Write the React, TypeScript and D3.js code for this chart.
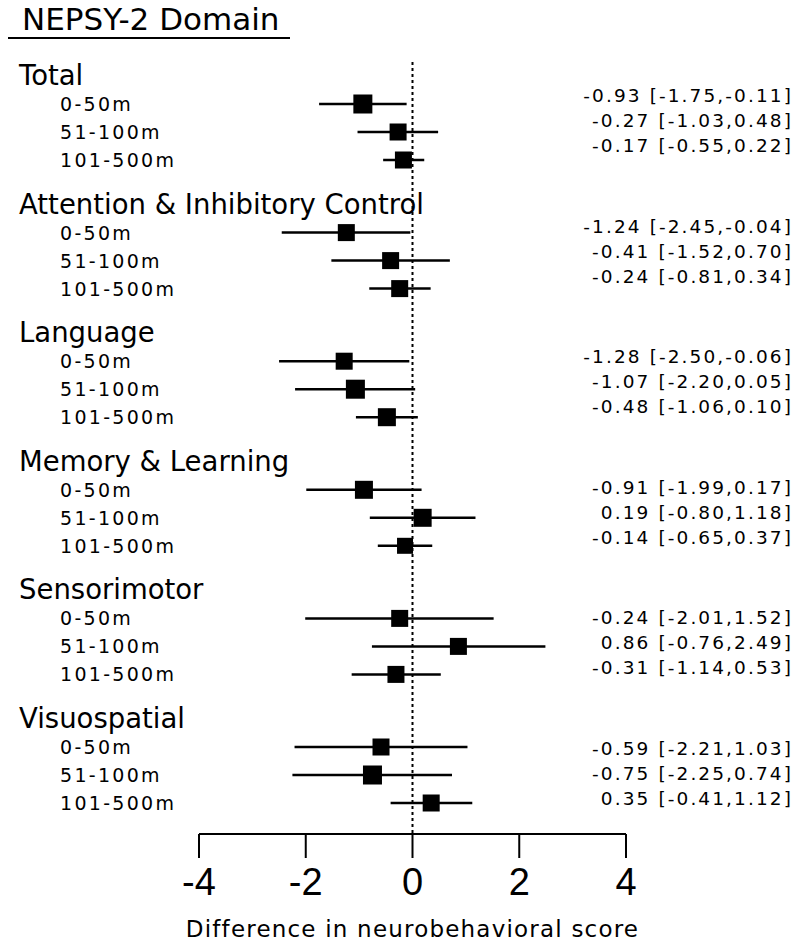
import React from "react";
import * as d3 from "d3";

const groups = ["Total", "Attention & Inhibitory Control", "Language", "Memory & Learning", "Sensorimotor", "Visuospatial"];
const distances = ["0-50m", "51-100m", "101-500m"];
const estimates = [
  [-0.93, -0.27, -0.17],
  [-1.24, -0.41, -0.24],
  [-1.28, -1.07, -0.48],
  [-0.91, 0.19, -0.14],
  [-0.24, 0.86, -0.31],
  [-0.59, -0.75, 0.35],
];
const lowers = [
  [-1.75, -1.03, -0.55],
  [-2.45, -1.52, -0.81],
  [-2.5, -2.2, -1.06],
  [-1.99, -0.8, -0.65],
  [-2.01, -0.76, -1.14],
  [-2.21, -2.25, -0.41],
];
const uppers = [
  [-0.11, 0.48, 0.22],
  [-0.04, 0.7, 0.34],
  [-0.06, 0.05, 0.1],
  [0.17, 1.18, 0.37],
  [1.52, 2.49, 0.53],
  [1.03, 0.74, 1.12],
];
const boxSizes = [
  [19, 17, 17],
  [17, 17, 17],
  [17, 19, 18],
  [18, 18, 16],
  [17, 17, 17],
  [17, 19, 17],
];
const xTicks = [-4, -2, 0, 2, 4];
const title = "NEPSY-2 Domain";
const xLabel = "Difference in neurobehavioral score";

const fmt = (v: number) => v.toFixed(2);

export default function App() {
  const x = d3.scaleLinear().domain([-4, 4]).range([199, 626]);
  const rowY = (g: number, i: number) => 104 + g * 128.6 + i * 28;
  const headerY = (g: number) => 85 + g * 128.6;
  const textY = (g: number, i: number) => 102 + g * 130.6 + i * 25;
  const axisY = 834;
  const font = "'DejaVu Sans', Verdana, sans-serif";
  const tickFont = "'Liberation Sans', Arial, sans-serif";

  return (
    <svg
      width={800}
      height={951}
      style={{ position: "absolute", left: 0, top: 0, background: "#fff" }}
      fontFamily={font}
    >
      <rect x={0} y={0} width={800} height={951} fill="#fff" />
      <text x={22} y={30} fontSize={31} fill="#000">{title}</text>
      <line x1={8} x2={290} y1={38} y2={38} stroke="#000" strokeWidth={2} />

      <line x1={x(0)} x2={x(0)} y1={62} y2={axisY} stroke="#000" strokeWidth={2} strokeDasharray="3,3" />

      {groups.map((g, gi) => (
        <g key={g}>
          <text x={19} y={headerY(gi)} fontSize={27.5} fill="#000">{g}</text>
          {distances.map((d, i) => {
            const y = rowY(gi, i);
            const s = boxSizes[gi][i];
            const e = estimates[gi][i];
            return (
              <g key={d}>
                <text x={60} y={y + 7} fontSize={19} letterSpacing={2.3} fill="#000">{d}</text>
                <line x1={x(lowers[gi][i])} x2={x(uppers[gi][i])} y1={y} y2={y} stroke="#000" strokeWidth={2.5} />
                <rect x={x(e) - s / 2} y={y - s / 2} width={s} height={s} fill="#000" />
                <text x={793} y={textY(gi, i)} fontSize={18.5} letterSpacing={2.1} textAnchor="end" fill="#000">
                  {`${fmt(e)} [${fmt(lowers[gi][i])},${fmt(uppers[gi][i])}]`}
                </text>
              </g>
            );
          })}
        </g>
      ))}

      <line x1={x(-4)} x2={x(4)} y1={axisY} y2={axisY} stroke="#000" strokeWidth={2} />
      {xTicks.map((t) => (
        <g key={t}>
          <line x1={x(t)} x2={x(t)} y1={axisY} y2={858} stroke="#000" strokeWidth={2} />
          <text x={x(t)} y={895} fontSize={38} fontFamily={tickFont} textAnchor="middle" fill="#000">{t}</text>
        </g>
      ))}
      <text x={x(0)} y={937} fontSize={23} letterSpacing={1.2} textAnchor="middle" fill="#000">{xLabel}</text>
    </svg>
  );
}
